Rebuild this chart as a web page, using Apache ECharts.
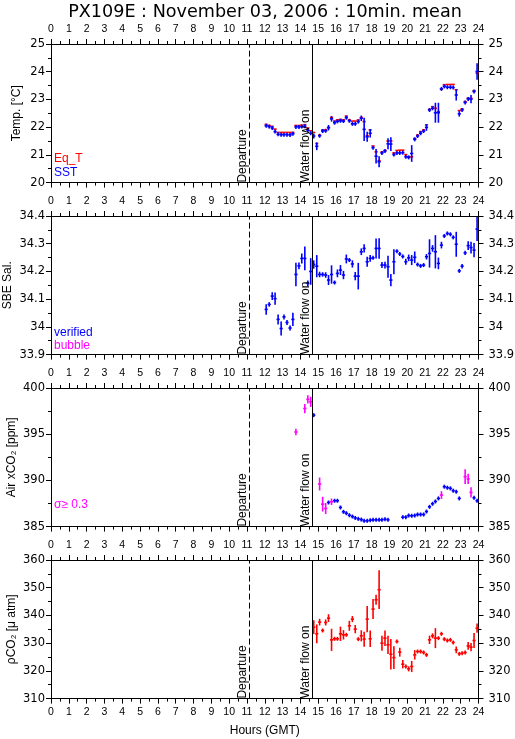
<!DOCTYPE html>
<html><head><meta charset="utf-8">
<script src="https://cdn.jsdelivr.net/npm/echarts@6/dist/echarts.min.js"></script>
<style>html,body{margin:0;padding:0;background:#fff}#c{width:515px;height:739px}</style>
</head><body><div id="c"></div>
<script>
// ---------------- DATA ----------------
const titleText = 'PX109E : November 03, 2006 : 10min. mean';
const departureHour = 11.13;
const waterFlowHour = 14.67;

// 10-minute mean time stamps (hours GMT)
const hours = [
  12.08,12.25,12.42,12.58,12.75,12.92,
  13.08,13.25,13.42,13.58,13.75,13.92,
  14.08,14.25,14.42,14.58,14.75,14.92,
  15.08,15.25,15.42,15.58,15.75,15.92,
  16.08,16.25,16.42,16.58,16.75,16.92,
  17.08,17.25,17.42,17.58,17.75,17.92,
  18.08,18.25,18.42,18.58,18.75,18.92,
  19.08,19.25,19.42,19.58,19.75,19.92,
  20.08,20.25,20.42,20.58,20.75,20.92,
  21.08,21.25,21.42,21.58,21.75,21.92,
  22.08,22.25,22.42,22.58,22.75,22.92,
  23.08,23.25,23.42,23.58,23.75,23.92
];

const sst = [
  22.05,22.02,21.97,21.84,21.74,21.73,
  21.73,21.73,21.72,21.76,22.01,22.01,
  22.02,22.03,21.89,21.78,21.68,21.31,
  21.69,21.86,21.87,21.98,22.30,22.16,
  22.21,22.23,22.22,22.34,22.23,22.12,
  22.12,22.20,22.32,21.92,21.65,21.78,
  21.26,20.95,20.75,21.07,21.14,21.40,
  21.39,21.01,21.07,21.07,21.08,20.93,
  20.91,21.05,21.56,21.68,21.78,21.86,
  21.99,22.62,22.68,22.52,22.52,23.38,
  23.47,23.44,23.44,23.43,23.16,22.48,
  22.62,22.89,23.02,23.01,23.29,24.01
];
const sstSd = [
  0.02,0.02,0.02,0.05,0.02,0.02,
  0.02,0.02,0.02,0.03,0.02,0.02,
  0.02,0.02,0.08,0.05,0.09,0.14,
  0.05,0.03,0.03,0.10,0.10,0.04,
  0.03,0.06,0.05,0.03,0.04,0.02,
  0.02,0.07,0.10,0.42,0.18,0.15,
  0.03,0.26,0.20,0.03,0.03,0.20,
  0.25,0.03,0.02,0.02,0.02,0.03,
  0.03,0.30,0.05,0.05,0.05,0.05,
  0.12,0.05,0.04,0.36,0.36,0.05,
  0.04,0.03,0.03,0.03,0.20,0.10,
  0.05,0.05,0.05,0.15,0.06,0.30
];
const eqT = [
  22.10,22.06,22.03,21.93,21.81,21.81,
  21.81,21.81,21.81,21.81,22.06,22.06,
  22.07,22.09,21.97,21.87,21.81,21.41,
  21.71,21.90,21.90,21.99,22.35,22.22,
  22.26,22.28,22.26,22.40,22.26,22.22,
  22.22,22.26,22.35,22.20,21.69,21.90,
  21.32,21.11,20.79,21.10,21.16,21.50,
  21.50,21.07,21.16,21.17,21.17,21.01,
  20.93,20.93,21.59,21.71,21.84,21.90,
  22.08,22.64,22.74,22.68,22.56,23.37,
  23.53,23.54,23.54,23.54,23.35,22.60,
  22.66,22.92,23.04,23.04,23.31,23.95
];

const salinity = [
  34.063,34.081,34.111,34.102,34.027,33.994,
  34.036,34.016,33.996,34.027,34.189,34.220,
  34.247,34.247,34.157,34.200,34.225,34.219,
  34.189,34.189,34.187,34.169,34.189,34.160,
  34.193,34.205,34.187,34.245,34.241,34.227,
  34.183,34.183,34.271,34.283,34.235,34.247,
  34.249,34.283,34.283,34.223,34.223,34.217,
  34.169,34.235,34.273,34.263,34.254,34.235,
  34.249,34.241,34.251,34.225,34.220,34.223,
  34.253,34.265,34.283,34.271,34.229,34.295,
  34.328,34.337,34.334,34.323,34.298,34.202,
  34.219,34.267,34.293,34.286,34.277,34.353
];
const salinitySd = [
  0.019,0.008,0.014,0.022,0.018,0.025,
  0.009,0.009,0.009,0.024,0.042,0.012,
  0.018,0.043,0.010,0.048,0.015,0.040,
  0.010,0.008,0.010,0.018,0.033,0.005,
  0.014,0.018,0.015,0.016,0.006,0.013,
  0.015,0.048,0.012,0.015,0.018,0.012,
  0.005,0.036,0.037,0.011,0.012,0.040,
  0.022,0.045,0.005,0.005,0.005,0.011,
  0.012,0.018,0.021,0.006,0.005,0.006,
  0.010,0.051,0.012,0.060,0.021,0.012,
  0.005,0.006,0.006,0.006,0.045,0.006,
  0.008,0.008,0.016,0.021,0.026,0.043
];

const airXco2 = [
  null,null,null,null,null,null,
  null,null,null,null,395.24,null,
  null,397.78,398.77,398.50,397.06,null,
  389.61,387.43,386.96,387.61,387.69,387.80,
  387.80,387.07,386.60,386.45,386.23,386.09,
  385.94,385.84,385.76,385.62,385.62,385.69,
  385.73,385.73,385.73,385.73,385.80,385.73,
  null,null,null,null,386.02,386.02,
  386.20,386.17,386.20,386.31,386.31,386.31,
  386.63,387.14,387.47,387.72,388.05,388.41,
  389.32,389.21,389.14,388.89,388.78,388.05,
  null,390.41,390.16,388.70,388.12,387.80
];
const airXco2Sd = [
  null,null,null,null,null,null,
  null,null,null,null,0.35,null,
  null,0.50,0.45,0.55,0.20,null,
  0.70,0.80,0.60,0.10,0.35,0.08,
  0.08,0.12,0.10,0.08,0.05,0.05,
  0.05,0.05,0.05,0.05,0.05,0.05,
  0.05,0.05,0.05,0.05,0.05,0.05,
  null,null,null,null,0.05,0.05,
  0.05,0.05,0.05,0.05,0.05,0.05,
  0.12,0.10,0.08,0.08,0.10,0.42,
  0.10,0.06,0.06,0.06,0.08,0.12,
  null,0.80,0.55,0.55,0.12,0.08
];
const bubbleSigma = 0.3;

const pco2 = [
  null,null,null,null,null,null,
  null,null,null,null,null,null,
  null,null,null,null,335.78,333.37,
  337.59,334.58,337.47,339.04,331.20,331.57,
  331.57,333.37,333.01,333.01,336.27,338.68,
  335.06,331.45,332.65,331.45,338.68,331.57,
  342.29,345.66,349.28,330.00,331.81,329.40,
  326.00,324.80,330.60,326.75,322.41,321.57,
  320.72,321.57,325.78,326.99,326.99,326.63,
  325.78,331.20,332.65,331.81,331.81,333.37,
  331.45,330.96,331.20,330.24,327.59,326.14,
  326.39,326.63,329.04,328.55,330.96,335.42
];
const pco2Sd = [
  null,null,null,null,null,null,
  null,null,null,null,null,null,
  null,null,null,null,2.5,3.4,
  1.2,0.5,1.1,1.4,4.0,0.4,
  0.4,2.6,1.7,0.6,1.8,1.1,
  1.5,0.5,2.0,2.7,4.7,3.0,
  3.6,1.8,7.0,2.7,2.8,3.3,
  5.5,4.1,0.5,1.6,1.5,0.5,
  0.9,2.0,1.7,0.4,0.4,0.5,
  0.6,1.5,0.9,3.6,0.5,0.7,
  0.4,0.5,0.4,0.4,1.2,0.4,
  0.4,0.5,1.4,1.5,2.7,1.7
];

// axis ranges
const tempRange = [20, 25, 1];
const salRange = [33.9, 34.4, 0.1];
const airRange = [385, 400, 5];
const pco2Range = [310, 360, 10];
const hourRange = [0, 24, 1];

// ---------------- CHART ----------------
const RED = '#ff0000', BLUE = '#0000ff', MAGENTA = '#ff00ff';
const HALF = 0.09;   // half of a 10-min bar, hours
const LW = 1.6;

function points(vals, sds, filterFn) {
  const out = [];
  hours.forEach((h, i) => {
    if (vals[i] == null) return;
    const s = sds ? sds[i] : 0;
    if (filterFn && !filterFn(s)) return;
    out.push([h, vals[i], s]);
  });
  return out;
}

function errRender(color, vertical) {
  return function (params, api) {
    const x = api.value(0), y = api.value(1), s = api.value(2);
    const c = api.coord([x, y]);
    const l = api.coord([x - HALF, y]);
    const r = api.coord([x + HALF, y]);
    const kids = [{ type: 'line', shape: { x1: l[0], y1: c[1], x2: r[0], y2: c[1] },
      style: { stroke: color, lineWidth: LW } }];
    if (vertical) {
      const t = api.coord([x, y + s])[1], b = api.coord([x, y - s])[1];
      kids.push({ type: 'line', shape: { x1: c[0], y1: Math.min(t, c[1] - 2), x2: c[0], y2: Math.max(b, c[1] + 2) },
        style: { stroke: color, lineWidth: LW } });
    }
    return { type: 'group', children: kids };
  };
}

const GRID_TOPS = [44, 216, 388, 560];
const GRID_H = 138.6;
const grids = GRID_TOPS.map(t => ({ left: 51, width: 427.5, top: t, height: GRID_H, show: false,
  containLabel: false, outerBoundsMode: 'none' }));

const tickCommon = {
  axisLine: { show: true, onZero: false, lineStyle: { color: '#000', width: 1 } },
  axisTick: { show: true, inside: false, length: 5, lineStyle: { color: '#000', width: 1 } },
  minorTick: { show: true, splitNumber: 2, length: 3, lineStyle: { color: '#000', width: 1 } },
  splitLine: { show: false }, minorSplitLine: { show: false }
};

const xAxes = [];
for (let g = 0; g < 4; g++) {
  const lab = (show, margin) => ({ show, margin, color: '#000', fontFamily: 'Liberation Sans', fontSize: 10.5 });
  xAxes.push(Object.assign({ type: 'value', gridIndex: g, position: 'bottom',
    min: hourRange[0], max: hourRange[1], interval: hourRange[2],
    axisLabel: lab(g === 3, 8.5),
    name: g === 3 ? 'Hours (GMT)' : '', nameLocation: 'middle', nameGap: 26, nameMoveOverlap: false,
    nameTextStyle: { color: '#000', fontFamily: 'Liberation Sans', fontSize: 12 } }, tickCommon));
  xAxes.push(Object.assign({ type: 'value', gridIndex: g, position: 'top',
    min: hourRange[0], max: hourRange[1], interval: hourRange[2],
    axisLabel: lab(true, 9.5) }, tickCommon));
}

const yDefs = [
  { r: tempRange, name: 'Temp. [°C]', gap: 28 },
  { r: salRange, name: 'SBE Sal.', gap: 37 },
  { r: airRange, name: 'Air xCO₂ [ppm]', gap: 33 },
  { r: pco2Range, name: 'ρCO₂ [μ atm]', gap: 33 }
];
const yAxes = [];
yDefs.forEach((d, g) => {
  const lab = (m) => ({ show: true, margin: m, color: '#000', fontFamily: 'DejaVu Sans', fontSize: 11.5 });
  yAxes.push(Object.assign({ type: 'value', gridIndex: g, position: 'left',
    min: d.r[0], max: d.r[1], interval: d.r[2], axisLabel: lab(6),
    name: d.name, nameLocation: 'middle', nameGap: d.gap, nameMoveOverlap: false,
    nameTextStyle: { color: '#000', fontFamily: 'Liberation Sans', fontSize: 12 } }, tickCommon));
  yAxes.push(Object.assign({ type: 'value', gridIndex: g, position: 'right',
    min: d.r[0], max: d.r[1], interval: d.r[2], axisLabel: lab(10) }, tickCommon));
});

function errSeries(g, data, color, vertical, z) {
  return { type: 'custom', xAxisIndex: 2 * g, yAxisIndex: 2 * g, data,
    renderItem: errRender(color, vertical), z: z || 2, animation: false, silent: true };
}

function markerSeries(g, r) {
  return { type: 'scatter', xAxisIndex: 2 * g, yAxisIndex: 2 * g, data: [], symbolSize: 0, silent: true, z: 5,
    markLine: {
      silent: true, symbol: 'none', animation: false,
      lineStyle: { color: '#000', width: 1 },
      label: { show: true, position: 'insideStartTop', color: '#000', fontFamily: 'Liberation Sans',
        fontSize: 12, distance: [0, 1] },
      data: [
        [{ coord: [departureHour, r[0]], lineStyle: { type: [6, 3], color: '#000', width: 1 },
           label: { formatter: 'Departure' } }, { coord: [departureHour, r[1]] }],
        [{ coord: [waterFlowHour, r[0]], lineStyle: { type: 'solid', color: '#000', width: 1 },
           label: { formatter: 'Water flow on' } }, { coord: [waterFlowHour, r[1]] }]
      ]
    } };
}

const series = [
  errSeries(0, points(eqT, null), RED, false, 2),
  errSeries(0, points(sst, sstSd), BLUE, true, 3),
  errSeries(1, points(salinity, salinitySd), BLUE, true, 3),
  errSeries(2, points(airXco2, airXco2Sd, s => s < bubbleSigma), BLUE, true, 3),
  errSeries(2, points(airXco2, airXco2Sd, s => s >= bubbleSigma), MAGENTA, true, 3),
  errSeries(3, points(pco2, pco2Sd), RED, true, 3),
  markerSeries(0, tempRange), markerSeries(1, salRange), markerSeries(2, airRange), markerSeries(3, pco2Range)
];

function txt(x, y, text, color, size, family, align) {
  return { type: 'text', x: 0, y: 0, silent: true, z: 10,
    style: { x, y, text, fill: color, fontSize: size, fontFamily: family,
      font: size + 'px "' + family + '"',
      align: align || 'left', verticalAlign: 'middle',
      textAlign: align || 'left', textVerticalAlign: 'middle' } };
}

const option = {
  animation: false,
  backgroundColor: '#ffffff',
  grid: grids,
  xAxis: xAxes,
  yAxis: yAxes,
  series,
  graphic: [
    txt(265, 12.5, titleText, '#000', 17.6, 'DejaVu Sans', 'center'),
    txt(54, 158.5, 'Eq_T', RED, 12, 'Liberation Sans'),
    txt(54, 172.5, 'SST', BLUE, 12, 'Liberation Sans'),
    txt(54, 332.5, 'verified', BLUE, 12, 'Liberation Sans'),
    txt(54, 345.5, 'bubble', MAGENTA, 12, 'Liberation Sans'),
    txt(54, 504.5, 'σ≥ 0.3', MAGENTA, 12, 'Liberation Sans')
  ]
};

const chart = echarts.init(document.getElementById('c'), null, { renderer: 'canvas' });
chart.setOption(option);
</script>
</body></html>
